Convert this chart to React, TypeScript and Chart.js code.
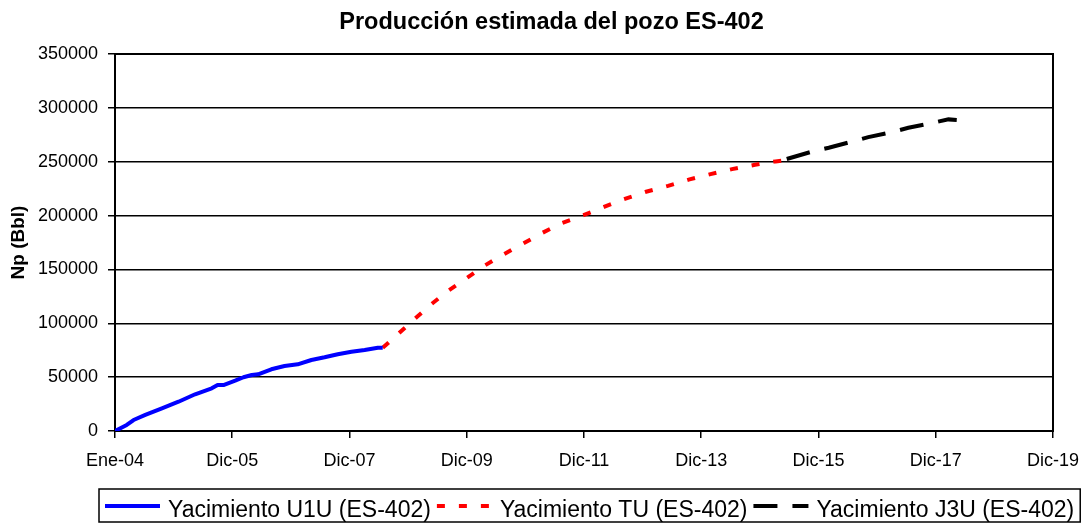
import React, { useEffect, useRef } from "react";
import { Chart, registerables } from "chart.js";

Chart.register(...registerables);

const FONT = "'Liberation Sans', Arial, Helvetica, sans-serif";

const TITLE = "Producción estimada del pozo ES-402";
const Y_TITLE = "Np (Bbl)";
const X_TICK_LABELS = ["Ene-04", "Dic-05", "Dic-07", "Dic-09", "Dic-11", "Dic-13", "Dic-15", "Dic-17", "Dic-19"];
const X_TICK_STEP = 24; // months between labelled ticks
const Y_MAX = 350000;
const Y_STEP = 50000;

// months counted from Ene-04
const U1U_LABEL = "Yacimiento U1U (ES-402)";
const U1U_MONTHS = [0, 2.4, 3.8, 6.2, 9.6, 13.0, 16.4, 19.8, 21.0, 22.2, 24.6, 26.3, 28.0, 29.3, 32.0, 34.7, 37.4, 40.2, 42.9, 45.6, 48.4, 51.1, 53.8, 54.8];
const U1U_NP = [0, 5600, 10200, 14900, 21100, 27200, 34100, 39600, 42700, 42700, 46700, 49900, 52000, 52600, 57300, 60300, 61900, 65900, 68400, 71200, 73600, 75200, 77300, 77300];

const TU_LABEL = "Yacimiento TU (ES-402)";
const TU_MONTHS = [54.8, 58.1, 61.3, 64.8, 68.2, 71.9, 75.6, 79.7, 83.6, 87.5, 91.6, 95.9, 100.1, 104.2, 108.7, 113.2, 117.6, 121.9, 126.3, 131, 135.2, 136.8];
const TU_NP = [77300, 90700, 103900, 117900, 130200, 141700, 153400, 164300, 174200, 184000, 193300, 200400, 208100, 215300, 222100, 227600, 233600, 238500, 243100, 247100, 250300, 251200];

const J3U_LABEL = "Yacimiento J3U (ES-402)";
const J3U_MONTHS = [137.5, 143, 146.1, 151.2, 154.2, 159.3, 162.4, 167.5, 170.6, 172.3];
const J3U_NP = [252500, 259800, 263000, 269100, 272800, 277800, 281500, 286200, 289300, 288800];

const toPoints = (xs: number[], ys: number[]) => xs.map((x, i) => ({ x, y: ys[i] }));

const framePlugin = {
  id: "frame",
  beforeDatasetsDraw(chart: any) {
    const { ctx, chartArea: a } = chart;
    ctx.save();
    ctx.strokeStyle = "#000";
    ctx.lineWidth = 2;
    ctx.strokeRect(a.left, a.top, a.right - a.left, a.bottom - a.top);
    ctx.restore();
  },
};

const titlePlugin = {
  id: "chartTitle",
  afterDraw(chart: any) {
    const { ctx } = chart;
    ctx.save();
    ctx.font = `bold 23.5px ${FONT}`;
    ctx.fillStyle = "#000";
    ctx.textAlign = "center";
    ctx.textBaseline = "alphabetic";
    ctx.fillText(TITLE, chart.width / 2 + 6, 29);
    ctx.restore();
  },
};

const boxLegendPlugin = {
  id: "boxLegend",
  afterDraw(chart: any) {
    const { ctx, chartArea: a } = chart;
    const datasets = chart.data.datasets;
    ctx.save();
    ctx.font = `23px ${FONT}`;
    const pad = 6, sample = 55, g1 = 8, g2 = 6;
    const widths = datasets.map((d: any) => ctx.measureText(d.label).width);
    const total = widths.reduce((s: number, w: number) => s + sample + g1 + w, 0) + g2 * (datasets.length - 1) + pad * 2;
    const left = a.left - 16;
    const top = a.bottom + 58;
    const h = 33;
    ctx.strokeStyle = "#000";
    ctx.lineWidth = 1.5;
    ctx.strokeRect(left, top, total, h);
    let x = left + pad;
    const lineY = top + 17;
    datasets.forEach((d: any, i: number) => {
      ctx.save();
      ctx.strokeStyle = d.borderColor;
      ctx.lineWidth = d.borderWidth;
      ctx.setLineDash(d.borderDash || []);
      ctx.lineCap = "butt";
      ctx.beginPath();
      ctx.moveTo(x, lineY);
      ctx.lineTo(x + sample, lineY);
      ctx.stroke();
      ctx.restore();
      x += sample + g1;
      ctx.fillStyle = "#000";
      ctx.textBaseline = "alphabetic";
      ctx.textAlign = "left";
      ctx.fillText(d.label, x, top + 28);
      x += widths[i] + g2;
    });
    ctx.restore();
  },
};

export default function App() {
  const canvasRef = useRef<HTMLCanvasElement | null>(null);

  useEffect(() => {
    if (!canvasRef.current) return;
    const chart = new Chart(canvasRef.current, {
      type: "line",
      data: {
        datasets: [
          {
            label: U1U_LABEL,
            data: toPoints(U1U_MONTHS, U1U_NP),
            borderColor: "#0000ff",
            borderWidth: 4,
            pointRadius: 0,
            tension: 0,
            borderJoinStyle: "round",
          },
          {
            label: TU_LABEL,
            data: toPoints(TU_MONTHS, TU_NP),
            borderColor: "#ff0000",
            borderWidth: 4,
            borderDash: [8, 14],
            pointRadius: 0,
            tension: 0,
          },
          {
            label: J3U_LABEL,
            data: toPoints(J3U_MONTHS, J3U_NP),
            borderColor: "#000000",
            borderWidth: 4,
            borderDash: [24, 15],
            pointRadius: 0,
            tension: 0,
          },
        ] as any,
      },
      options: {
        animation: false,
        responsive: false,
        devicePixelRatio: 1,
        layout: { padding: { left: 0, right: 36, top: 54, bottom: 36 } },
        plugins: {
          legend: { display: false },
          tooltip: { enabled: false },
          title: { display: false },
        },
        scales: {
          x: {
            type: "linear",
            min: 0,
            max: X_TICK_STEP * (X_TICK_LABELS.length - 1),
            offset: false,
            afterBuildTicks: (s: any) => {
              s.ticks = X_TICK_LABELS.map((_, i) => ({ value: i * X_TICK_STEP }));
            },
            afterFit: (s: any) => {
              s.height = 58;
            },
            ticks: {
              callback: (_v: any, i: number) => X_TICK_LABELS[i],
              color: "#000",
              font: { family: FONT, size: 18 },
              padding: 12,
              maxRotation: 0,
              autoSkip: false,
            },
            grid: {
              display: true,
              drawOnChartArea: false,
              drawTicks: true,
              tickLength: 7,
              color: "#000",
              lineWidth: 1.5,
            },
            border: { display: true, color: "#000", width: 2 },
          },
          y: {
            min: 0,
            max: Y_MAX,
            afterFit: (s: any) => {
              s.width = 115;
            },
            ticks: {
              stepSize: Y_STEP,
              callback: (v: any) => String(v),
              color: "#000",
              font: { family: FONT, size: 18 },
              padding: 10,
            },
            grid: {
              color: "#000",
              lineWidth: 1.5,
              tickLength: 7,
              drawTicks: true,
            },
            border: { display: true, color: "#000", width: 2 },
            title: {
              display: true,
              text: Y_TITLE,
              color: "#000",
              font: { family: FONT, size: 19, weight: "bold" },
              padding: { top: 7, bottom: 0 },
            },
          },
        },
      } as any,
      plugins: [framePlugin, titlePlugin, boxLegendPlugin],
    });
    return () => chart.destroy();
  }, []);

  return (
    <div style={{ position: "absolute", left: 0, top: 0, width: 1091, height: 525, background: "#fff" }}>
      <canvas ref={canvasRef} width={1091} height={525} style={{ display: "block" }} />
    </div>
  );
}
